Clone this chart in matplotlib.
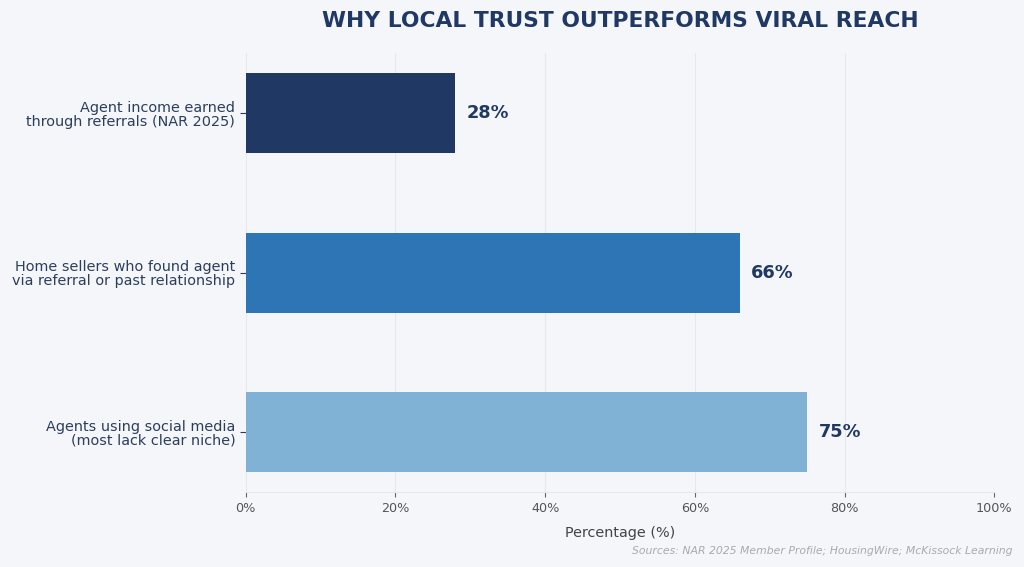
import matplotlib.pyplot as plt
from matplotlib.ticker import PercentFormatter

plt.rcParams['font.family'] = ['DejaVu Sans']

# dados
categorias = [
    'Agent income earned\nthrough referrals (NAR 2025)',
    'Home sellers who found agent\nvia referral or past relationship',
    'Agents using social media\n(most lack clear niche)',
]
valores = [28, 66, 75]
cores = ['#1f3864', '#2e75b6', '#7fb2d4']

fundo = '#f4f6fa'
azul_escuro = '#1f3864'

fig, ax = plt.subplots(figsize=(10.24, 5.67), dpi=100)
fig.patch.set_facecolor(fundo)
ax.set_facecolor(fundo)

pos = list(range(len(categorias)))
ax.barh(pos, valores, height=0.5, color=cores, zorder=3)
ax.invert_yaxis()

# rótulos de valor
for y, v in zip(pos, valores):
    ax.text(v + 1.5, y, f'{v}%', va='center', ha='left',
            fontsize=12.8, fontweight='bold', color=azul_escuro)

ax.set_yticks(pos)
ax.set_yticklabels(categorias, fontsize=10.4, color='#2c3e5a', linespacing=1.0)
ax.set_xlim(0, 100)
ax.set_xticks([0, 20, 40, 60, 80, 100])
ax.xaxis.set_major_formatter(PercentFormatter(decimals=0))
ax.tick_params(axis='x', labelsize=9.2, colors='#555555', length=3.5)
ax.tick_params(axis='x', color='#666666')
ax.tick_params(axis='y', length=4, color='#2c3e5a')

ax.grid(axis='x', color='#e6e8ee', linewidth=0.8, zorder=0)
for lado in ['top', 'right', 'left']:
    ax.spines[lado].set_visible(False)
ax.spines['bottom'].set_color('#e6e8ee')

ax.set_xlabel('Percentage (%)', fontsize=10.4, color='#444444', labelpad=8)
ax.set_title('WHY LOCAL TRUST OUTPERFORMS VIRAL REACH', fontsize=15.7,
             fontweight='bold', color=azul_escuro, pad=19)

fig.text(0.989, 0.028, 'Sources: NAR 2025 Member Profile; HousingWire; McKissock Learning',
         ha='right', va='center', fontsize=7.8, style='italic', color='#aaaaaa')

plt.subplots_adjust(left=0.240, right=0.971, top=0.906, bottom=0.132)
plt.savefig('out.png', dpi=100, facecolor=fundo)
